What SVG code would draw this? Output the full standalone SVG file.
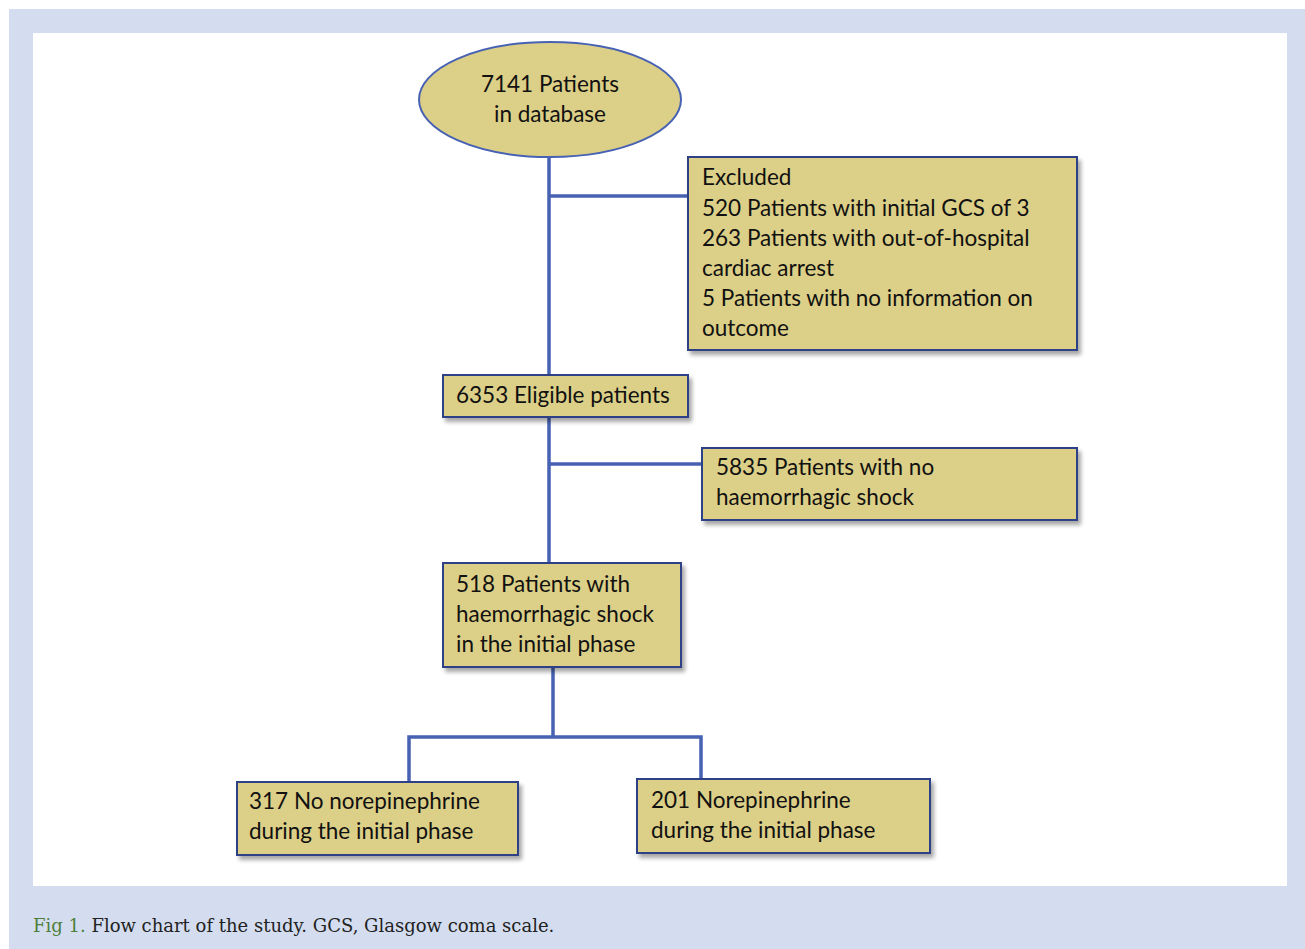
<svg xmlns="http://www.w3.org/2000/svg" width="1305" height="949" viewBox="0 0 1305 949">
<defs>
<filter id="sh" x="-10%" y="-10%" width="130%" height="140%">
<feGaussianBlur in="SourceAlpha" stdDeviation="2"/>
<feOffset dx="3" dy="4" result="b"/>
<feComponentTransfer><feFuncA type="linear" slope="0.35"/></feComponentTransfer>
<feMerge><feMergeNode/><feMergeNode in="SourceGraphic"/></feMerge>
</filter>
</defs>
<style>
.box{fill:#DCCF87;stroke:#2F3F86;stroke-width:2;filter:url(#sh)}
.t{font-family:Lato,"Open Sans",sans-serif;font-size:22.5px;fill:#111}
.c{stroke:#4762B3;stroke-width:3.5;fill:none}
.cap{font-family:"DejaVu Serif","Liberation Serif",serif;font-size:18px;fill:#222}
</style>
<rect x="9" y="9" width="1296" height="940" fill="#D4DDEF"/>
<rect x="33" y="33" width="1254" height="853" fill="#FFFFFF"/>
<g id="connectors">
<path class="c" d="M549,157 V375"/>
<path class="c" d="M549,196 H688"/>
<path class="c" d="M549,417 V563"/>
<path class="c" d="M549,464 H702"/>
<path class="c" d="M553,667 V737"/>
<path class="c" d="M409,782 V737 H701 V779"/>
</g>
<g id="n1">
<ellipse cx="550" cy="99.5" rx="131" ry="57.5" fill="#DCCF87" stroke="#4762B3" stroke-width="2"/>
<text class="t" x="550" y="92" text-anchor="middle">7141 Patients</text>
<text class="t" x="550" y="122" text-anchor="middle">in database</text>
</g>
<g id="n2">
<rect class="box" x="688" y="157" width="389" height="193"/>
<text class="t" x="702" y="185">Excluded</text>
<text class="t" x="702" y="216">520 Patients with initial GCS of 3</text>
<text class="t" x="702" y="246">263 Patients with out-of-hospital</text>
<text class="t" x="702" y="276">cardiac arrest</text>
<text class="t" x="702" y="306">5 Patients with no information on</text>
<text class="t" x="702" y="336">outcome</text>
</g>
<g id="n3">
<rect class="box" x="443" y="375" width="245" height="42"/>
<text class="t" x="456" y="403">6353 Eligible patients</text>
</g>
<g id="n4">
<rect class="box" x="702" y="448" width="375" height="72"/>
<text class="t" x="716" y="475">5835 Patients with no</text>
<text class="t" x="716" y="505">haemorrhagic shock</text>
</g>
<g id="n5">
<rect class="box" x="443" y="563" width="238" height="104"/>
<text class="t" x="456" y="592">518 Patients with</text>
<text class="t" x="456" y="622">haemorrhagic shock</text>
<text class="t" x="456" y="652">in the initial phase</text>
</g>
<g id="n6">
<rect class="box" x="237" y="782" width="281" height="73"/>
<text class="t" x="249" y="809">317 No norepinephrine</text>
<text class="t" x="249" y="839">during the initial phase</text>
</g>
<g id="n7">
<rect class="box" x="637" y="779" width="293" height="74"/>
<text class="t" x="651" y="808">201 Norepinephrine</text>
<text class="t" x="651" y="838">during the initial phase</text>
</g>
<text class="cap" x="33" y="932"><tspan fill="#4E7F3A">Fig 1.</tspan> Flow chart of the study. GCS, Glasgow coma scale.</text>
</svg>
